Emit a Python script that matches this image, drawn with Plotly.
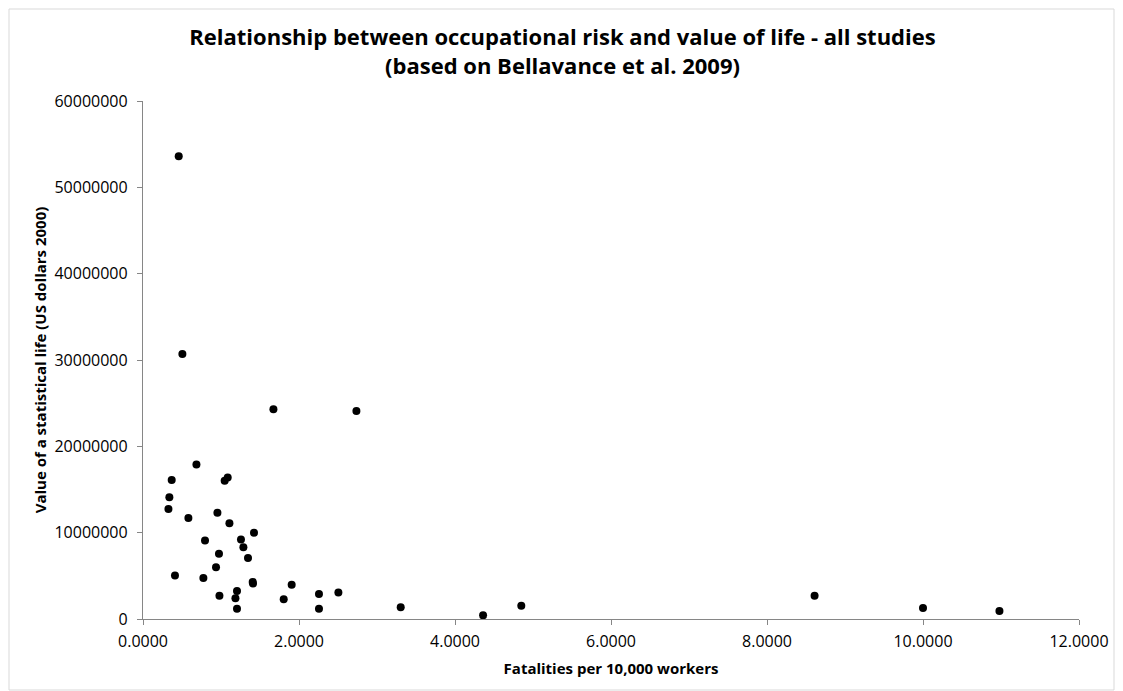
import plotly.graph_objects as go

fatality_rate = [0.458, 0.505, 1.672, 2.736, 0.685, 0.368, 1.047, 1.086, 0.338, 0.326,
                 0.582, 0.954, 1.108, 1.423, 0.795, 1.256, 1.287, 1.346, 0.974, 0.936,
                 0.410, 0.774, 1.406, 1.410, 1.906, 1.205, 2.505, 2.256, 0.980, 1.185,
                 1.804, 1.205, 2.256, 3.304, 4.36, 4.85, 8.61, 10.0, 10.98]
vsl_value = [53600000, 30700000, 24300000, 24100000, 17900000, 16100000, 16000000, 16400000,
             14100000, 12750000, 11700000, 12300000, 11100000, 10000000, 9100000, 9200000,
             8300000, 7070000, 7570000, 6000000, 5050000, 4750000, 4300000, 4100000,
             3970000, 3240000, 3080000, 2900000, 2700000, 2400000, 2300000, 1200000,
             1200000, 1350000, 420000, 1540000, 2700000, 1270000, 930000]

title_text = ("Relationship between occupational risk and value of life - all studies"
              "<br>(based on Bellavance et al. 2009)")
x_title = "Fatalities per 10,000 workers"
y_title = "Value of a statistical life (US dollars 2000)"

FONT = "Open Sans, Liberation Sans, sans-serif"

W, H = 1115, 683
L, R, T, B = 135, 44, 93, 72

fig = go.Figure()
fig.add_trace(go.Scatter(
    x=fatality_rate, y=vsl_value, mode="markers",
    marker=dict(color="black", size=8, line=dict(width=0)),
    showlegend=False, hoverinfo="x+y"))

tick_font = dict(family=FONT, size=16, color="#000")
title_font = dict(family=FONT, size=15, color="#000")

fig.update_layout(
    width=W, height=H,
    paper_bgcolor="white", plot_bgcolor="white",
    margin=dict(l=L, r=R, t=T, b=B, autoexpand=False),
    title=dict(text="<b>" + title_text + "</b>", x=554.5 / W,
               xanchor="center", xref="container",
               y=1 - 37 / H, yanchor="top", yref="container",
               font=dict(family=FONT, size=22, color="#000")),
    xaxis=dict(range=[0, 12], dtick=2, tickformat=".4f",
               showgrid=False, zeroline=False,
               showline=True, linecolor="#868686", linewidth=1.3,
               ticks="outside", ticklen=5, tickcolor="#868686",
               ticklabelstandoff=3,
               tickfont=tick_font,
               title=dict(text="<b>" + x_title + "</b>", standoff=12, font=title_font)),
    yaxis=dict(range=[0, 60000000], dtick=10000000, tickformat="d",
               showgrid=False, zeroline=False,
               showline=True, linecolor="#868686", linewidth=1.3,
               ticks="outside", ticklen=5, tickcolor="#868686",
               ticklabelstandoff=6,
               tickfont=tick_font,
               title=dict(text="<b>" + y_title + "</b>", standoff=4, font=title_font)),
)

# light chart-area border
pw = W - L - R
ph = H - T - B
fig.add_shape(type="rect", xref="paper", yref="paper",
              x0=(1 - L) / pw, x1=(W - 9 - L) / pw,
              y0=(T + ph - (H - 1)) / ph,
              y1=(T + ph - 1) / ph,
              line=dict(color="#d9d9d9", width=1), fillcolor="rgba(0,0,0,0)", layer="below")

fig.write_html("out.html")
